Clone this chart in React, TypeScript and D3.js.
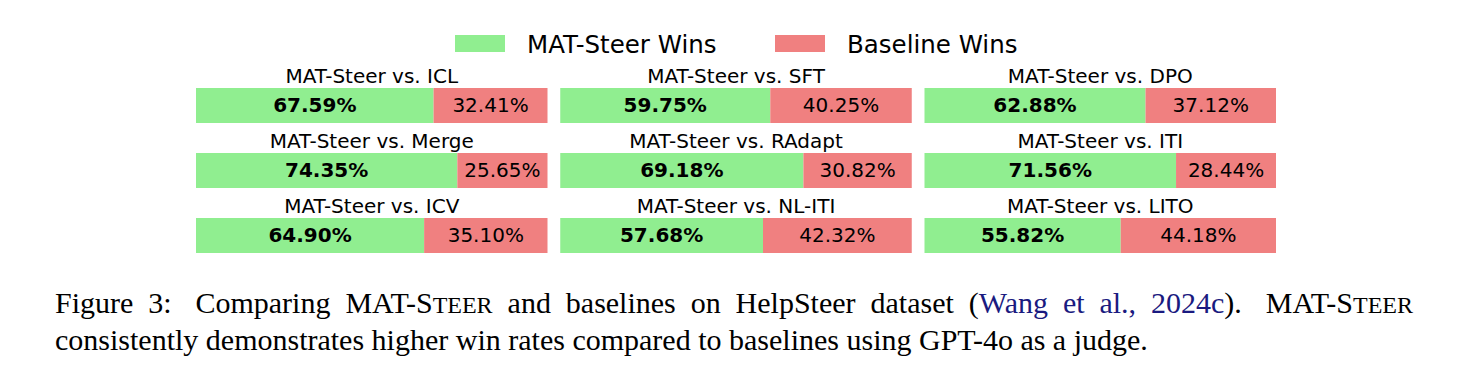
import React, { useLayoutEffect, useRef, useState } from "react";
import * as d3 from "d3";

const comparisons = [
  "MAT-Steer vs. ICL",
  "MAT-Steer vs. SFT",
  "MAT-Steer vs. DPO",
  "MAT-Steer vs. Merge",
  "MAT-Steer vs. RAdapt",
  "MAT-Steer vs. ITI",
  "MAT-Steer vs. ICV",
  "MAT-Steer vs. NL-ITI",
  "MAT-Steer vs. LITO",
];
const matSteerWins = [67.59, 59.75, 62.88, 74.35, 69.18, 71.56, 64.9, 57.68, 55.82];
const baselineWins = [32.41, 40.25, 37.12, 25.65, 30.82, 28.44, 35.1, 42.32, 44.18];
const legendLabels = ["MAT-Steer Wins", "Baseline Wins"];
const seriesColors = ["#90EE90", "#F08080"];

const W = 1467;
const H = 388;
const FONT = "'DejaVu Sans', sans-serif";
const SERIF = "'Liberation Serif', 'Times New Roman', serif";
const CITE = "#1a1a80";

type Piece = { t: string; small?: boolean; blue?: boolean };
const line1Words: Piece[][] = [
  [{ t: "Figure" }],
  [{ t: "3:" }],
  [{ t: "Comparing" }],
  [{ t: "MAT-S" }, { t: "TEER", small: true }],
  [{ t: "and" }],
  [{ t: "baselines" }],
  [{ t: "on" }],
  [{ t: "HelpSteer" }],
  [{ t: "dataset" }],
  [{ t: "(" }, { t: "Wang", blue: true }],
  [{ t: "et", blue: true }],
  [{ t: "al.,", blue: true }],
  [{ t: "2024c", blue: true }, { t: ")." }],
  [{ t: "MAT-S" }, { t: "TEER", small: true }],
];
const gapWeights = [1, 1.6, 1, 1, 1, 1, 1, 1, 1, 1, 1, 1, 1.6];
const line2 = "consistently demonstrates higher win rates compared to baselines using GPT-4o as a judge.";

const CAP_SIZE = 30;
const SMALL_SIZE = 24;
const PANEL_FONT = 20;

export default function App() {
  const colScale = d3.scaleBand<number>().domain([0, 1, 2]).range([196, 1276]).paddingInner(0.035);
  const rowScale = d3.scaleBand<number>().domain([0, 1, 2]).range([88, 253]).paddingInner(0.4615);

  const wordRefs = useRef<(SVGTextElement | null)[]>([]);
  const [wordX, setWordX] = useState<number[] | null>(null);

  useLayoutEffect(() => {
    const widths = wordRefs.current.map((el) => (el ? el.getComputedTextLength() : 0));
    const left = 55;
    const right = 1413;
    const total = widths.reduce((a, b) => a + b, 0);
    const wsum = gapWeights.reduce((a, b) => a + b, 0);
    const unit = (right - left - total) / wsum;
    const xs: number[] = [];
    let x = left;
    widths.forEach((w, i) => {
      xs.push(x);
      x += w + (i < gapWeights.length ? gapWeights[i] * unit : 0);
    });
    setWordX(xs);
  }, []);

  const legendStarts = [455, 775];

  return (
    <svg
      width={W}
      height={H}
      style={{ position: "absolute", left: 0, top: 0, background: "#fff" }}
      fontFamily={FONT}
    >
      <rect x={0} y={0} width={W} height={H} fill="#fff" />
      {/* legend */}
      {legendLabels.map((lab, i) => (
        <g key={lab}>
          <rect x={legendStarts[i]} y={35} width={50} height={17} fill={seriesColors[i]} />
          <text x={legendStarts[i] + 72} y={52.5} fontSize={24.5} fill="#000">
            {lab}
          </text>
        </g>
      ))}
      {/* panels */}
      {comparisons.map((title, i) => {
        const row = Math.floor(i / 3);
        const col = i % 3;
        const x0 = colScale(col)!;
        const bw = colScale.bandwidth();
        const y0 = rowScale(row)!;
        const bh = rowScale.bandwidth();
        const x = d3.scaleLinear().domain([0, 100]).range([x0, x0 + bw]);
        const a = matSteerWins[i];
        const b = baselineWins[i];
        const cy = y0 + bh / 2;
        return (
          <g key={title}>
            <text x={x0 + bw / 2} y={y0 - 5} textAnchor="middle" fontSize={PANEL_FONT} fill="#000">
              {title}
            </text>
            <rect x={x(0)} y={y0} width={x(a) - x(0)} height={bh} fill={seriesColors[0]} />
            <rect x={x(a)} y={y0} width={x(a + b) - x(a)} height={bh} fill={seriesColors[1]} />
            <text
              x={(x(0) + x(a)) / 2}
              y={cy + 6.6}
              textAnchor="middle"
              fontSize={PANEL_FONT}
              fontWeight="bold"
              fill="#000"
            >
              {a.toFixed(2)}%
            </text>
            <text x={(x(a) + x(a + b)) / 2} y={cy + 6.6} textAnchor="middle" fontSize={PANEL_FONT} fill="#000">
              {b.toFixed(2)}%
            </text>
          </g>
        );
      })}
      {/* caption */}
      <g fontFamily={SERIF} fontSize={CAP_SIZE} fill="#000">
        {line1Words.map((pieces, i) => (
          <text
            key={i}
            ref={(el) => {
              wordRefs.current[i] = el;
            }}
            x={wordX ? wordX[i] : 55 + i * 90}
            y={313}
          >
            {pieces.map((p, j) => (
              <tspan key={j} fontSize={p.small ? SMALL_SIZE : CAP_SIZE} fill={p.blue ? CITE : "#000"}>
                {p.t}
              </tspan>
            ))}
          </text>
        ))}
        <text x={55} y={350}>
          {line2}
        </text>
      </g>
    </svg>
  );
}
